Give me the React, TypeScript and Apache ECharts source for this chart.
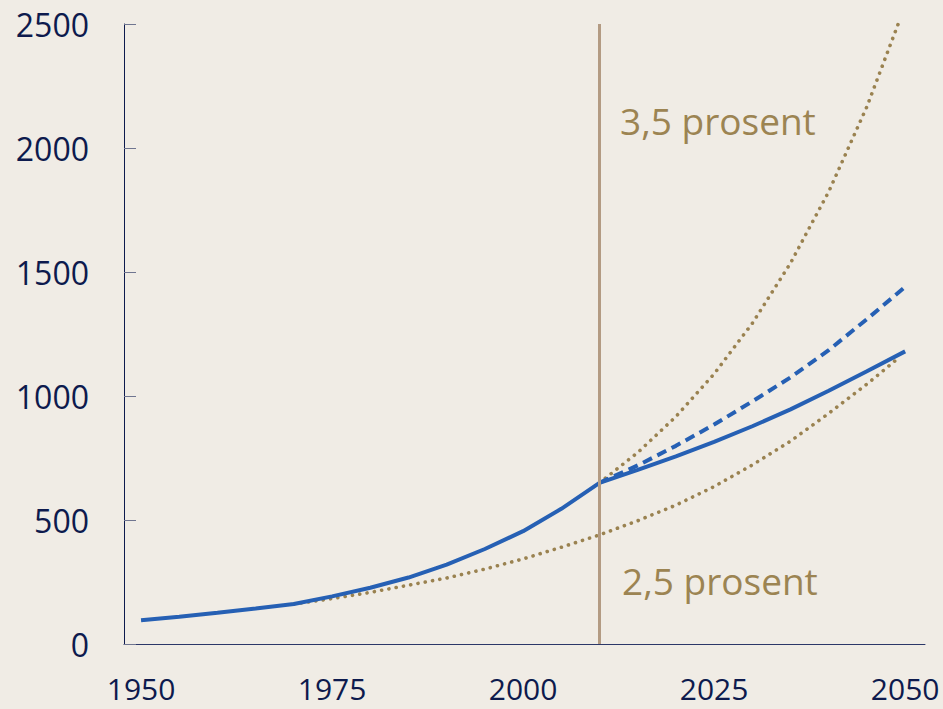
import React, { useEffect, useRef } from "react";
import * as echarts from "echarts";

// Years and values
const historyYears = [1950, 1955, 1960, 1965, 1970, 1975, 1980, 1985, 1990, 1995, 2000, 2005, 2010];
const historyValues = [96, 110, 126, 143, 161, 192, 227, 268, 320, 383, 455, 545, 650];

const projYears = [2010, 2015, 2020, 2025, 2030, 2035, 2040, 2045, 2050];
const projSolidValues = [650, 702, 757, 815, 878, 946, 1021, 1100, 1180];
const projDashedValues = [650, 720, 799, 885, 978, 1075, 1185, 1310, 1440];

const low25Years = [1970, 1975, 1980, 1985, 1990, 1995, 2000, 2005, 2010, 2015, 2020, 2025, 2030, 2035, 2040, 2045, 2049];
const low25Values = [161, 183, 208, 237, 266, 302, 343, 390, 440, 497, 560, 635, 722, 818, 930, 1048, 1150];

const high35Years = [2010, 2015, 2020, 2025, 2030, 2035, 2040, 2045, 2050];
const high35Values = [650, 772, 917, 1089, 1293, 1536, 1824, 2167, 2574];

const xTickLabels = [1950, 1975, 2000, 2025, 2050];
const yTicks = [0, 500, 1000, 1500, 2000, 2500];
const breakYear = 2010;
const labelHigh = "3,5 prosent";
const labelLow = "2,5 prosent";

const zip = (xs: number[], ys: number[]) => xs.map((x, i) => [x, ys[i]]);

const BLUE = "#2660b4";
const DOT = "#9a8250";
const NAVY = "#0d1a4d";
const TAN = "#9c8452";
const FONT = "Open Sans";

export default function App() {
  const ref = useRef<HTMLDivElement>(null);
  useEffect(() => {
    document.body.style.margin = "0";
    if (!ref.current) return;
    const chart = echarts.init(ref.current, undefined, { renderer: "svg" });
    const dotStyle = { color: DOT, width: 3.6, type: [0.1, 7.3], cap: "round" as const };
    chart.setOption({
      animation: false,
      backgroundColor: "#f0ece5",
      textStyle: { fontFamily: FONT },
      grid: { left: 124, right: 18, top: 24, bottom: 65, outerBoundsMode: "none", containLabel: false },
      xAxis: {
        type: "value",
        min: 1947.77,
        max: 2052.6,
        axisLine: { show: true, lineStyle: { color: "#2b3768", width: 1 } },
        axisTick: { show: false },
        splitLine: { show: false },
        axisLabel: {
          customValues: xTickLabels,
          formatter: (v: number) => String(v),
          color: NAVY,
          fontSize: 30,
          lineHeight: 30,
          fontFamily: FONT,
          margin: 29,
        },
      },
      yAxis: {
        type: "value",
        min: yTicks[0],
        max: yTicks[yTicks.length - 1],
        interval: 500,
        axisLine: { show: true, lineStyle: { color: NAVY, width: 1 } },
        axisTick: { show: true, inside: true, length: 12, lineStyle: { color: "#6f7590", width: 1 } },
        splitLine: { show: false },
        axisLabel: {
          formatter: (v: number) => String(v),
          color: NAVY,
          fontSize: 32,
          fontFamily: FONT,
          margin: 35,
        },
      },
      series: [
        {
          type: "line",
          data: zip(low25Years, low25Values),
          showSymbol: false,
          lineStyle: dotStyle,
          z: 1,
        },
        {
          type: "line",
          data: zip(high35Years, high35Values),
          showSymbol: false,
          lineStyle: dotStyle,
          z: 1,
          markLine: {
            silent: true,
            symbol: "none",
            label: { show: false },
            lineStyle: { color: "#b39b83", width: 3, type: "solid" },
            data: [{ xAxis: breakYear }],
          },
        },
        {
          type: "line",
          data: zip(projYears, projDashedValues),
          showSymbol: false,
          lineStyle: { color: BLUE, width: 4, type: [10, 6] },
          z: 3,
        },
        {
          type: "line",
          data: zip(projYears, projSolidValues),
          showSymbol: false,
          lineStyle: { color: BLUE, width: 4 },
          z: 4,
        },
        {
          type: "line",
          data: zip(historyYears, historyValues),
          showSymbol: false,
          lineStyle: { color: BLUE, width: 4 },
          z: 4,
        },
      ],
      graphic: [
        {
          type: "text",
          x: 620,
          y: 120,
          style: { text: labelHigh, fill: TAN, fontSize: 37, fontFamily: FONT, verticalAlign: "middle" },
        },
        {
          type: "text",
          x: 622,
          y: 580,
          style: { text: labelLow, fill: TAN, fontSize: 37, fontFamily: FONT, verticalAlign: "middle" },
        },
      ],
    });
    return () => chart.dispose();
  }, []);
  return <div ref={ref} style={{ width: 943, height: 709 }} />;
}
